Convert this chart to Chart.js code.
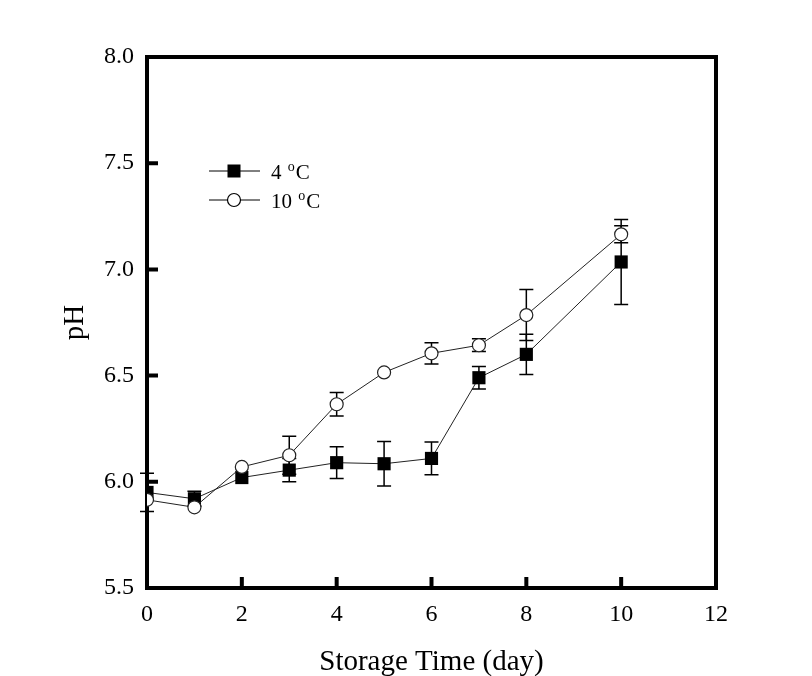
<!DOCTYPE html>
<html>
<head>
<meta charset="utf-8">
<script src="https://cdn.jsdelivr.net/npm/chart.js@4/dist/chart.umd.min.js"></script>
<style>
html,body{margin:0;padding:0;background:#fff;}
#wrap{width:812px;height:676px;}
</style>
</head>
<body>
<div id="wrap"><canvas id="c" width="812" height="676"></canvas></div>
<script>
const days = [0, 1, 2, 3, 4, 5, 6, 7, 8, 10];
const ph4 = [5.95, 5.92, 6.02, 6.055, 6.09, 6.085, 6.11, 6.49, 6.60, 7.035];
const err4 = [0.09, 0.035, 0, 0.055, 0.075, 0.105, 0.077, 0.053, 0.095, 0.2];
const ph10 = [5.915, 5.88, 6.07, 6.125, 6.365, 6.515, 6.605, 6.643, 6.785, 7.165];
const err10 = [0, 0, 0, 0.09, 0.055, 0, 0.05, 0.03, 0.12, 0.04];
const xTicks = [0, 2, 4, 6, 8, 10, 12];
const yTicks = [5.5, 6.0, 6.5, 7.0, 7.5, 8.0];
const seriesLabels = ['4 °C', '10 °C'];

const FONT = 'Liberation Serif';

const pts = (ys) => days.map((d, i) => ({x: d, y: ys[i]}));

const framePlugin = {
  id: 'frame',
  beforeDatasetsDraw(chart) {
    const {ctx, chartArea: a, scales} = chart;
    const xs = scales.x, ys = scales.y;
    ctx.save();
    // error bars
    ctx.strokeStyle = '#000';
    ctx.lineWidth = 1.5;
    const errs = [err4, err10];
    const vals = [ph4, ph10];
    for (let s = 0; s < 2; s++) {
      for (let i = 0; i < days.length; i++) {
        const e = errs[s][i];
        if (!e) continue;
        const px = xs.getPixelForValue(days[i]);
        const y1 = ys.getPixelForValue(vals[s][i] + e);
        const y2 = ys.getPixelForValue(vals[s][i] - e);
        ctx.beginPath();
        ctx.moveTo(px, y1); ctx.lineTo(px, y2);
        ctx.moveTo(px - 7, y1); ctx.lineTo(px + 7, y1);
        ctx.moveTo(px - 7, y2); ctx.lineTo(px + 7, y2);
        ctx.stroke();
      }
    }
    // frame
    ctx.lineWidth = 4;
    ctx.strokeStyle = '#000';
    ctx.strokeRect(a.left, a.top, a.right - a.left, a.bottom - a.top);
    // inward ticks
    ctx.beginPath();
    xTicks.forEach(t => {
      if (t === xTicks[0] || t === xTicks[xTicks.length - 1]) return;
      const px = xs.getPixelForValue(t);
      ctx.moveTo(px, a.bottom); ctx.lineTo(px, a.bottom - 11);
    });
    yTicks.forEach(t => {
      if (t === yTicks[0] || t === yTicks[yTicks.length - 1]) return;
      const py = ys.getPixelForValue(t);
      ctx.moveTo(a.left, py); ctx.lineTo(a.left + 11, py);
    });
    ctx.stroke();
    ctx.restore();
  },
  afterDatasetsDraw(chart) {
    const {ctx} = chart;
    ctx.save();
    // legend
    const lx1 = 209, lx2 = 260, mx = 234;
    const rows = [171, 200];
    ctx.strokeStyle = '#000';
    ctx.lineWidth = 1;
    ctx.textBaseline = 'alphabetic';
    ctx.fillStyle = '#000';
    rows.forEach((ry, i) => {
      ctx.beginPath();
      ctx.moveTo(lx1, ry); ctx.lineTo(lx2, ry);
      ctx.stroke();
      if (i === 0) {
        ctx.fillStyle = '#000';
        ctx.fillRect(mx - 6.5, ry - 6.5, 13, 13);
      } else {
        ctx.beginPath();
        ctx.arc(mx, ry, 6.5, 0, Math.PI * 2);
        ctx.fillStyle = '#fff';
        ctx.fill();
        ctx.lineWidth = 1.2;
        ctx.stroke();
      }
      ctx.fillStyle = '#000';
      // draw "N °C" with the degree as a raised small "o"
      const parts = seriesLabels[i].split('°');
      const base = ry + 8;
      let x = 271;
      ctx.font = '21px "' + FONT + '"';
      ctx.fillText(parts[0], x, base);
      x += ctx.measureText(parts[0]).width + 1;
      ctx.font = '14px "' + FONT + '"';
      ctx.fillText('o', x, base - 8);
      x += ctx.measureText('o').width + 1;
      ctx.font = '21px "' + FONT + '"';
      ctx.fillText(parts[1], x, base);
    });
    ctx.restore();
  }
};

new Chart(document.getElementById('c'), {
  type: 'line',
  data: {
    datasets: [
      {
        label: seriesLabels[1],
        data: pts(ph10),
        order: 0,
        borderColor: '#222',
        borderWidth: 1,
        pointStyle: 'circle',
        pointRadius: 6.5,
        pointBackgroundColor: '#fff',
        pointBorderColor: '#222',
        pointBorderWidth: 1.2,
        tension: 0
      },
      {
        label: seriesLabels[0],
        data: pts(ph4),
        order: 1,
        borderColor: '#222',
        borderWidth: 1,
        pointStyle: 'rect',
        pointRadius: 9.3,
        pointBackgroundColor: '#000',
        pointBorderColor: '#000',
        pointBorderWidth: 0,
        tension: 0
      }
    ]
  },
  options: {
    responsive: false,
    animation: false,
    events: [],
    layout: {padding: {left: 0, top: 57, right: 96, bottom: 0}},
    plugins: {legend: {display: false}, tooltip: {enabled: false}},
    scales: {
      x: {
        type: 'linear',
        min: 0, max: 12,
        afterBuildTicks: (s) => { s.ticks = xTicks.map(v => ({value: v})); },
        afterFit: (s) => { s.height = 88; },
        grid: {display: false, drawTicks: false},
        border: {display: false},
        ticks: {color: '#000', padding: 12, font: {family: FONT, size: 24}, maxRotation: 0},
        title: {display: true, text: 'Storage Time (day)', color: '#000', font: {family: FONT, size: 29}, padding: {top: 0, bottom: -4}}
      },
      y: {
        type: 'linear',
        min: 5.5, max: 8.0,
        afterBuildTicks: (s) => { s.ticks = yTicks.map(v => ({value: v})); },
        afterFit: (s) => { s.width = 147; },
        grid: {display: false, drawTicks: false},
        border: {display: false},
        ticks: {color: '#000', padding: 13, font: {family: FONT, size: 24}, callback: (v) => Number(v).toFixed(1)},
        title: {display: true, text: 'pH', color: '#000', font: {family: FONT, size: 29}, padding: {top: 58, bottom: 0}}
      }
    }
  },
  plugins: [framePlugin]
});
</script>
</body>
</html>
